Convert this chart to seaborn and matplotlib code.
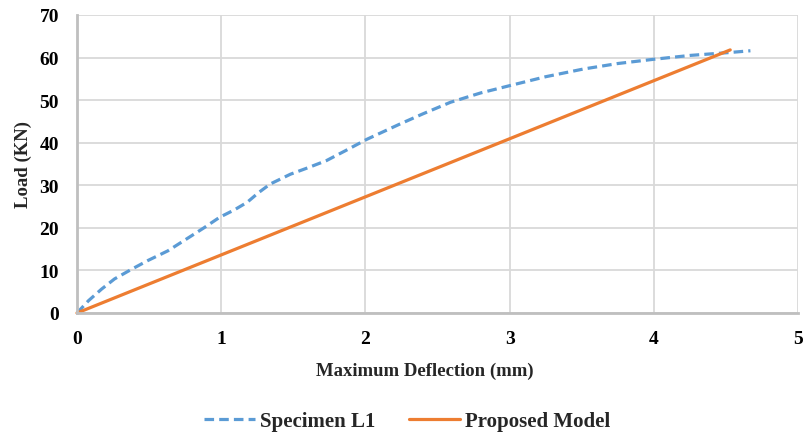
import numpy as np
import pandas as pd
import matplotlib
matplotlib.use("Agg")
import matplotlib.pyplot as plt
import seaborn as sns

# Specimen L1 (test data)
spec_x = [0.0, 0.08, 0.17, 0.26, 0.38, 0.49, 0.63, 0.76, 0.88, 0.99, 1.09, 1.18, 1.26, 1.34, 1.48,
          1.6, 1.73, 1.86, 2.01, 2.24, 2.4, 2.59, 2.8, 3.0, 3.25, 3.51, 3.75, 4.0, 4.25, 4.53, 4.67]
spec_y = [0.0, 2.9, 5.6, 8.0, 10.3, 12.3, 14.6, 17.4, 20.0, 22.5, 24.2, 26.0, 28.3, 30.3, 32.6,
          34.1, 35.8, 38.1, 40.8, 44.4, 46.8, 49.5, 51.7, 53.4, 55.5, 57.3, 58.6, 59.6, 60.5, 61.2, 61.6]
# Proposed model
model_x = [0.0, 4.53]
model_y = [0.0, 61.8]

x_ticks = [0, 1, 2, 3, 4, 5]
y_ticks = [0, 10, 20, 30, 40, 50, 60, 70]

sns.set_theme(style="white")
plt.rcParams['font.family'] = ['Liberation Serif', 'DejaVu Serif']
plt.rcParams['font.weight'] = 'bold'

fig = plt.figure(figsize=(8.04, 4.39), dpi=100)
ax = fig.add_axes([77/804, 1-314/439, (798-77)/804, (314-16)/439])

df1 = pd.DataFrame({"x": spec_x, "y": spec_y})
df2 = pd.DataFrame({"x": model_x, "y": model_y})

sns.lineplot(data=df1, x="x", y="y", ax=ax, sort=False, color="#5B9BD5",
             linewidth=2.3, linestyle=(0, (3.0, 1.6)), label="Specimen L1")
sns.lineplot(data=df2, x="x", y="y", ax=ax, sort=False, color="#ED7D31",
             linewidth=2.3, label="Proposed Model")
for ln in ax.get_lines():
    ln.set_solid_joinstyle('round')
    ln.set_dash_joinstyle('round')
    ln.set_clip_on(False)

ax.set_xlim(0, 5)
ax.set_ylim(0, 70)
ax.set_xticks(x_ticks)
ax.set_yticks(y_ticks)
ax.set_xticklabels([str(v) for v in x_ticks], fontsize=14, fontweight='bold')
ax.set_yticklabels([str(v) for v in y_ticks], fontsize=14, fontweight='bold')
ax.tick_params(axis='y', length=0, pad=13, colors='black')
ax.tick_params(axis='x', length=0, pad=12, colors='black')
ax.grid(True, color='#d9d9d9', linewidth=1.3)
ax.set_axisbelow(True)
for s in ['top', 'right']:
    ax.spines[s].set_visible(False)
for s in ['left', 'bottom']:
    ax.spines[s].set_color('#bfbfbf')
    ax.spines[s].set_linewidth(2)

ax.set_xlabel("Maximum Deflection (mm)", fontsize=13.5, fontweight='bold')
ax.xaxis.set_label_coords(0.482, -0.163)
ax.set_ylabel("Load (KN)", fontsize=13.5, fontweight='bold', labelpad=5)

ax.legend(loc='center', bbox_to_anchor=(0.458, -0.362), ncol=2, frameon=False,
          prop={'size': 15, 'weight': 'bold'}, handlelength=2.45, columnspacing=1.6,
          handletextpad=0.25)

fig.savefig("out.png", dpi=100)
